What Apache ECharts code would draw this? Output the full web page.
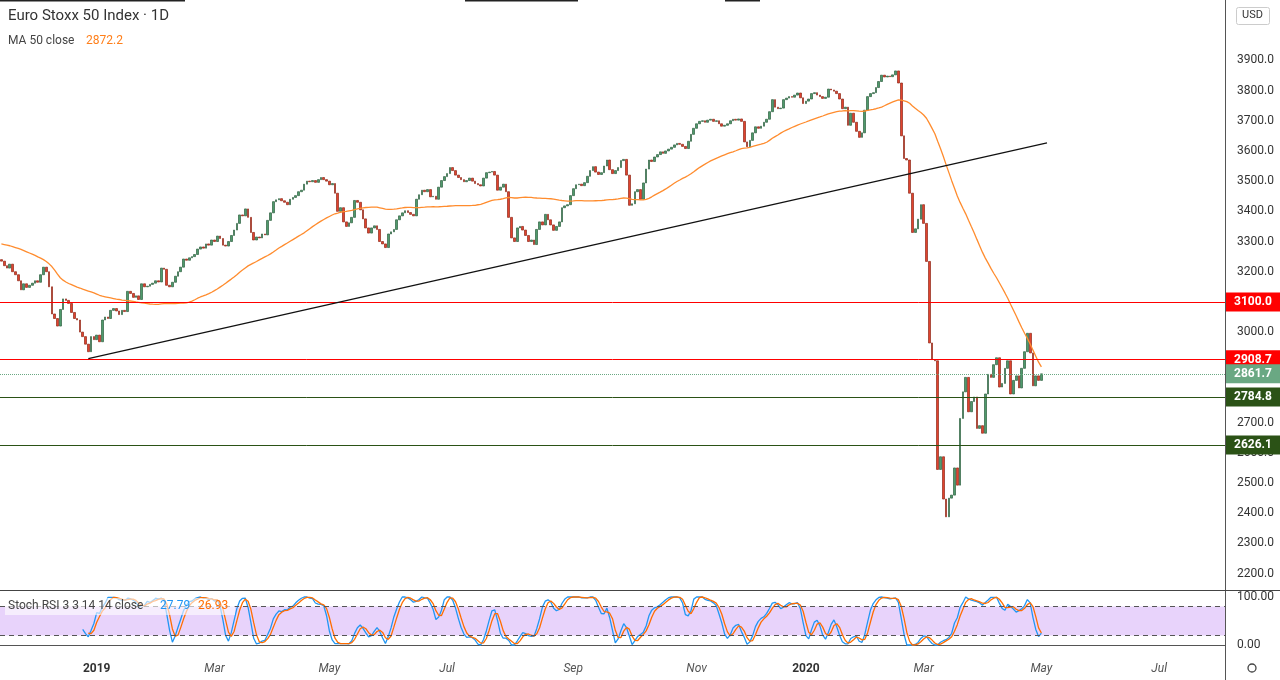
<!DOCTYPE html>
<html>
<head>
<meta charset="utf-8">
<script src="https://cdn.jsdelivr.net/npm/echarts@6/dist/echarts.min.js"></script>
<style>
  html, body { margin: 0; padding: 0; background: #fff; }
  #chart { width: 1280px; height: 680px; }
</style>
</head>
<body>
<div id="chart"></div>
<script>
// daily closes, Nov 2018 .. early May 2020
var closes = [
  3235,3220,3212,3225,3200,3190,3170,3140,3160,3148,
  3155,3162,3170,3165,3190,3215,3200,3150,3060,3045,
  3020,3075,3110,3105,3095,3065,3045,3040,3000,2985,
  2960,2935,2985,2975,2990,2968,3040,3050,3045,3072,
  3078,3070,3058,3072,3068,3135,3128,3115,3120,3108,
  3160,3150,3152,3158,3162,3170,3166,3212,3208,3155,
  3150,3165,3185,3200,3215,3242,3238,3246,3250,3257,
  3275,3282,3278,3292,3288,3305,3300,3318,3310,3288,
  3285,3300,3320,3338,3360,3388,3385,3408,3380,3330,
  3305,3315,3312,3325,3322,3370,3395,3432,3438,3442,
  3435,3430,3422,3440,3446,3452,3465,3470,3490,3500,
  3498,3502,3496,3505,3512,3505,3500,3488,3492,3460,
  3400,3412,3365,3350,3362,3380,3436,3430,3405,3375,
  3345,3328,3345,3352,3340,3300,3292,3280,3325,3332,
  3340,3372,3385,3395,3402,3396,3390,3385,3440,3455,
  3470,3465,3472,3448,3450,3440,3480,3502,3515,3525,
  3545,3535,3520,3512,3505,3498,3502,3510,3500,3492,
  3488,3484,3510,3528,3530,3532,3520,3470,3480,3490,
  3465,3380,3312,3300,3345,3350,3338,3320,3300,3305,
  3290,3340,3365,3355,3390,3372,3355,3337,3350,3365,
  3412,3418,3422,3452,3475,3488,3490,3485,3495,3516,
  3535,3548,3530,3522,3528,3550,3570,3538,3525,3535,
  3545,3568,3572,3520,3420,3425,3465,3472,3440,3494,
  3540,3570,3565,3580,3588,3597,3592,3600,3606,3612,
  3620,3625,3622,3615,3608,3632,3655,3675,3690,3698,
  3700,3695,3702,3705,3698,3700,3690,3682,3685,3690,
  3700,3705,3702,3706,3698,3630,3614,3635,3660,3680,
  3675,3682,3695,3705,3730,3770,3745,3740,3742,3770,
  3775,3780,3778,3785,3792,3776,3757,3765,3772,3790,
  3793,3785,3780,3774,3778,3805,3802,3798,3790,3772,
  3740,3745,3685,3725,3695,3665,3645,3660,3735,3780,
  3790,3793,3810,3830,3851,3845,3848,3846,3852,3865,
  3825,3650,3575,3570,3460,3330,3342,3374,3422,3360,
  3234,2964,2909,2905,2545,2587,2447,2388,2450,2460,
  2550,2493,2714,2802,2850,2736,2770,2785,2681,2690,
  2665,2795,2860,2850,2892,2915,2818,2830,2880,2905,
  2795,2840,2855,2815,2880,2935,2996,2931,2822,2855,
  2840,2861.7
];
var firstOpen = 3240;

// MA 50 before 50 days of history exist
var maHead = [
  3292,3290,3288,3286,3283,3280,3277,3274,3270,3266,
  3262,3258,3254,3249,3245,3240,3234,3226,3217,3205,
  3192,3180,3172,3166,3161,3157,3153,3149,3146,3142,
  3139,3136,3133,3130,3126,3122,3119,3117,3115,3113,
  3111,3109,3108,3106,3105,3104,3103,3102,3100
];

var priceTicks = [2200,2300,2400,2500,2600,2700,2900,3000,3100,3200,3300,3400,3500,3600,3700,3800,3900];
var redLevels = [3100.0, 2908.7];
var greenLevels = [2784.8, 2626.1];
var lastPrice = 2861.7;
var trendStart = [31, 2912];
var trendEnd = [373, 3627];
var monthNames = ['Jan','Feb','Mar','Apr','May','Jun','Jul','Aug','Sep','Oct','Nov','Dec'];
var holidays = ['2018-12-24','2018-12-25','2018-12-26','2018-12-31','2019-01-01','2019-04-19','2019-04-22','2019-05-01',
  '2019-12-24','2019-12-25','2019-12-26','2019-12-31','2020-01-01','2020-04-10','2020-04-13','2020-05-01'];

// trading-day categories
var dates = [];
var d = new Date(Date.UTC(2018, 10, 8));
while (dates.length < 437) {
    var s = d.toISOString().slice(0, 10);
    var wd = d.getUTCDay();
    if (wd !== 0 && wd !== 6 && holidays.indexOf(s) < 0) dates.push(s);
    d.setUTCDate(d.getUTCDate() + 1);
}

var ohlc = [];
for (var i = 0; i < closes.length; i++) {
    var o = i === 0 ? firstOpen : closes[i - 1];
    var c = closes[i];
    ohlc.push([o, c, Math.min(o, c), Math.max(o, c)]);
}

// MA 50
var ma = [];
for (var i = 0; i < closes.length; i++) {
    if (i < 49) { ma.push(maHead[i]); continue; }
    var sum = 0;
    for (var j = i - 49; j <= i; j++) sum += closes[j];
    ma.push(+(sum / 50).toFixed(1));
}

// Stoch RSI 3 3 14 14
function sma(arr, n) {
    var out = [];
    for (var i = 0; i < arr.length; i++) {
        var ok = i >= n - 1, s = 0;
        for (var j = i - n + 1; ok && j <= i; j++) {
            if (arr[j] == null) { ok = false; break; }
            s += arr[j];
        }
        out.push(ok ? s / n : null);
    }
    return out;
}
var rsi = [null], ag = 0, al = 0;
for (var i = 1; i < closes.length; i++) {
    var ch = closes[i] - closes[i - 1];
    var g = Math.max(ch, 0), l = Math.max(-ch, 0);
    if (i <= 14) { ag += g / 14; al += l / 14; rsi.push(i === 14 ? 100 - 100 / (1 + ag / (al || 1e-9)) : null); }
    else { ag = (ag * 13 + g) / 14; al = (al * 13 + l) / 14; rsi.push(100 - 100 / (1 + ag / (al || 1e-9))); }
}
var stoch = [];
for (var i = 0; i < rsi.length; i++) {
    if (i < 27) { stoch.push(null); continue; }
    var win = rsi.slice(i - 13, i + 1);
    var hi = Math.max.apply(null, win), lo = Math.min.apply(null, win);
    stoch.push(hi === lo ? 50 : (rsi[i] - lo) / (hi - lo) * 100);
}
var kLine = sma(stoch, 3);
var dLine = sma(kLine, 3);

function isLabelDay(idx) {
    if (idx === 0) return false;
    var m = +dates[idx].slice(5, 7), pm = +dates[idx - 1].slice(5, 7);
    return m !== pm && m % 2 === 1;
}

function levelLine(v, bg, type) {
    return {
        yAxis: v,
        lineStyle: { color: bg, width: 1, type: type || 'solid' },
        label: {
            show: true, position: 'end', distance: 1,
            formatter: v.toFixed(1),
            color: '#fff', backgroundColor: bg, fontWeight: 'bold',
            fontSize: 12, fontFamily: 'Roboto', padding: [4, 6, 3, 8], width: 40
        }
    };
}

var markData = [];
redLevels.forEach(function (v) { markData.push(levelLine(v, '#ff0000')); });
greenLevels.forEach(function (v) { markData.push(levelLine(v, '#2b5216')); });
markData.push(levelLine(lastPrice, '#6aa883', 'dotted'));
markData.push([
    { coord: trendStart, lineStyle: { color: '#111', width: 1.3, type: 'solid' }, label: { show: false } },
    { coord: trendEnd }
]);

var chart = echarts.init(document.getElementById('chart'));
chart.setOption({
    animation: false,
    backgroundColor: '#fff',
    textStyle: { fontFamily: 'Roboto' },
    grid: [
        { left: 0, width: 1225, top: -11.5, height: 615.3 },
        { left: 0, width: 1225, top: 587.4, height: 67.2 }
    ],
    xAxis: [
        { type: 'category', gridIndex: 0, data: dates, axisLine: { show: false }, axisTick: { show: false }, axisLabel: { show: false } },
        {
            type: 'category', gridIndex: 1, data: dates,
            axisLine: { lineStyle: { color: '#555' } },
            axisTick: { interval: isLabelDay, alignWithLabel: true, lineStyle: { color: '#555' }, length: 4 },
            axisLabel: {
                interval: isLabelDay, margin: 8, fontSize: 12,
                formatter: function (v) {
                    var m = +v.slice(5, 7);
                    return m === 1 ? '{y|' + v.slice(0, 4) + '}' : '{m|' + monthNames[m - 1] + '}';
                },
                rich: { y: { fontWeight: 'bold', color: '#333', fontSize: 12 }, m: { color: '#555', fontSize: 12, fontStyle: 'italic' } }
            }
        }
    ],
    yAxis: [
        {
            type: 'value', gridIndex: 0, position: 'right', min: 2100, max: 4100, interval: 100,
            splitLine: { show: false }, axisLine: { show: false }, axisTick: { show: false },
            axisLabel: {
                margin: 12, color: '#333', fontSize: 12,
                formatter: function (v) { return priceTicks.indexOf(v) >= 0 ? v.toFixed(1) : ''; }
            }
        },
        {
            type: 'value', gridIndex: 1, position: 'right', min: -20, max: 120, interval: 20,
            splitLine: { show: false }, axisLine: { show: false }, axisTick: { show: false },
            axisLabel: {
                margin: 12, color: '#333', fontSize: 12,
                formatter: function (v) { return v === 0 || v === 100 ? v.toFixed(2) : ''; }
            }
        }
    ],
    series: [
        {
            type: 'candlestick', xAxisIndex: 0, yAxisIndex: 0, data: ohlc, barWidth: 2.2,
            itemStyle: { color: '#4f9a6c', color0: '#e0432e', borderColor: '#2f6040', borderColor0: '#8e2818', borderWidth: 0.7 },
            markLine: { symbol: 'none', silent: true, z: 20, data: markData }
        },
        {
            type: 'line', xAxisIndex: 0, yAxisIndex: 0, data: ma, showSymbol: false,
            lineStyle: { color: '#ff8c2e', width: 1.3 }
        },
        {
            type: 'line', xAxisIndex: 1, yAxisIndex: 1, data: kLine, showSymbol: false,
            lineStyle: { color: '#2196f3', width: 1.3 },
            markArea: { silent: true, itemStyle: { color: '#e8d3fb' }, data: [[{ yAxis: 20 }, { yAxis: 80 }]] },
            markLine: {
                symbol: 'none', silent: true, label: { show: false },
                lineStyle: { color: '#555', type: [5, 4], width: 1 },
                data: [{ yAxis: 20 }, { yAxis: 80 }]
            }
        },
        {
            type: 'line', xAxisIndex: 1, yAxisIndex: 1, data: dLine, showSymbol: false,
            lineStyle: { color: '#ff6d00', width: 1.3 }
        }
    ],
    graphic: [
        { type: 'line', z: 100, shape: { x1: 1225.5, y1: 0, x2: 1225.5, y2: 680 }, style: { stroke: '#555', lineWidth: 1 } },
        { type: 'line', z: 100, shape: { x1: 0, y1: 590.5, x2: 1280, y2: 590.5 }, style: { stroke: '#444', lineWidth: 1 } },
        { type: 'line', z: 100, shape: { x1: 0, y1: 0.5, x2: 185, y2: 0.5 }, style: { stroke: '#222', lineWidth: 2 } },
        { type: 'line', z: 100, shape: { x1: 465, y1: 0.5, x2: 578, y2: 0.5 }, style: { stroke: '#222', lineWidth: 2 } },
        { type: 'line', z: 100, shape: { x1: 725, y1: 0.5, x2: 760, y2: 0.5 }, style: { stroke: '#222', lineWidth: 2 } },
        { type: 'text', z: 100, left: 8, top: 9, style: { text: 'Euro Stoxx 50 Index · 1D', fill: '#333', font: '15px Roboto' } },
        { type: 'text', z: 100, left: 8, top: 35, style: { text: 'MA 50 close', fill: '#444', font: '12px Roboto' } },
        { type: 'text', z: 100, left: 86, top: 35, style: { text: '2872.2', fill: '#ff7f1a', font: '12px Roboto' } },
        { type: 'rect', z: 99, shape: { x: 5, y: 598, width: 230, height: 17 }, style: { fill: 'rgba(255,255,255,0.6)' } },
        { type: 'text', z: 100, left: 8, top: 600, style: { text: 'Stoch RSI 3 3 14 14 close', fill: '#444', font: '12px Roboto' } },
        { type: 'text', z: 100, left: 160, top: 600, style: { text: '27.79', fill: '#2196f3', font: '12px Roboto' } },
        { type: 'text', z: 100, left: 198, top: 600, style: { text: '26.93', fill: '#ff6d00', font: '12px Roboto' } },
        { type: 'rect', z: 100, shape: { x: 1236.5, y: 7.5, width: 33, height: 17, r: 2 }, style: { fill: '#fff', stroke: '#ccc' } },
        { type: 'text', z: 101, left: 1242, top: 10, style: { text: 'USD', fill: '#333', font: '11px Roboto' } },
        { type: 'circle', z: 100, shape: { cx: 1252, cy: 668, r: 4 }, style: { fill: 'none', stroke: '#444', lineWidth: 1.3 } }
    ]
});
</script>
</body>
</html>
